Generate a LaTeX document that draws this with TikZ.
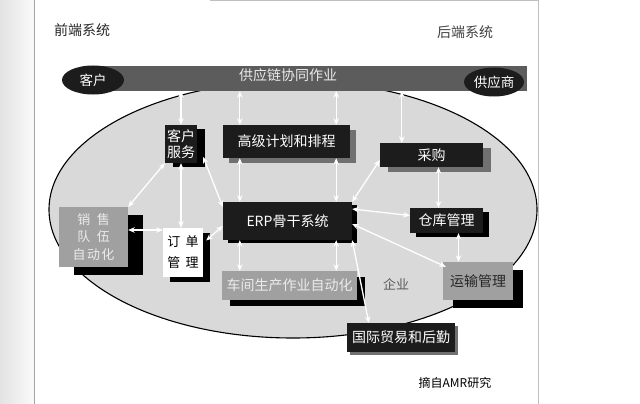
\documentclass[tikz,border=0pt]{standalone}
\usepackage{fontspec}
\newfontfamily\cjk{Noto Sans CJK SC}
\usetikzlibrary{arrows.meta,shadows,shapes.geometric}
\definecolor{bargray}{HTML}{5C5C5C}
\definecolor{ellfill}{HTML}{D9D9D9}
\definecolor{boxblack}{HTML}{1C1C1C}
\definecolor{midgray}{HTML}{A0A0A0}
\definecolor{shadgray}{HTML}{707070}
\definecolor{edgegray}{HTML}{A5A5A5}
\newcommand\myfs[2]{\fontsize{#1pt}{#2pt}\selectfont}
\begin{document}
\begin{tikzpicture}[x=1pt,y=-1pt,
  every node/.style={inner sep=0pt, align=center},
  bk/.style={fill=boxblack, text=white},
  gy/.style={fill=midgray, text=white},
  shd/.style n args={3}{general shadow={fill=#1, shadow xshift=#2, shadow yshift=#3}},
  arr/.style={draw=white, line width=1.3pt, {Stealth[length=6.5pt,width=5.5pt]}-{Stealth[length=6.5pt,width=5.5pt]}}
]
\useasboundingbox (0,0) rectangle (640,404);
\fill[white] (0,0) rectangle (640,404);
\shade[left color=gray!22, right color=gray!4] (0,0) rectangle (34,404);
\draw[edgegray, line width=1pt] (34.5,0) -- (34.5,404);
\draw[gray!50, line width=0.8pt] (538,0) -- (538,404);
\draw[gray!50, line width=1pt] (210,0.5) -- (538,0.5);

\node[font=\cjk\myfs{14}{16}, text=black!85] (front) at (82,30) {前端系统};
\node[font=\cjk\myfs{14}{16}, text=black!75] (back) at (465,32) {后端系统};

\draw[fill=ellfill, line width=1.1pt] (293,209.5) ellipse [x radius=244, y radius=128.5];

\node[fill=bargray, minimum width=427pt, minimum height=25pt] (bar) at (313.5,78.5) {};
\node[font=\cjk\myfs{14}{16}, text=white!92!black] (scl) at (288,75) {供应链协同作业};
\node[ellipse, bk, minimum width=62pt, minimum height=29pt, font=\cjk\myfs{13.5}{16}] (cust) at (93,80) {客户};
\node[ellipse, bk, minimum width=60pt, minimum height=29pt, font=\cjk\myfs{13.5}{16}] (supp) at (494,82) {供应商};

% boxes
\node[bk, shd={black}{8pt}{-4pt}, minimum width=32pt, minimum height=38pt, font=\cjk\myfs{14}{16}] (cs) at (181,144) {客户\\服务};
\node[bk, shd={shadgray}{6pt}{-5pt}, minimum width=127pt, minimum height=33pt, font=\cjk\myfs{14}{16}] (aps) at (286.5,141.5) {高级计划和排程};
\node[bk, shd={black}{5pt}{-3pt}, minimum width=129pt, minimum height=38pt, font=\cjk\myfs{14}{16}] (erp) at (287.5,221) {ERP骨干系统};
\node[bk, shd={shadgray}{8pt}{-5pt}, minimum width=103pt, minimum height=24pt, font=\cjk\myfs{14}{16}] (pur) at (431.5,155) {采购};
\node[bk, shd={black}{6pt}{-4pt}, minimum width=73pt, minimum height=25pt, font=\cjk\myfs{14}{16}] (wh) at (446.5,220.5) {仓库管理};
\node[gy, text=black!85, shd={black}{10pt}{-8pt}, minimum width=70pt, minimum height=38pt, font=\cjk\myfs{14}{16}] (tr) at (478,281) {运输管理};
\node[bk, shd={shadgray}{3pt}{-3pt}, minimum width=108pt, minimum height=29pt, font=\cjk\myfs{14}{16}] (intl) at (401,337.5) {国际贸易和后勤};
\node[gy, text=white!92!black, shd={black}{8pt}{-6pt}, minimum width=135pt, minimum height=29pt, font=\cjk\myfs{14}{16}] (shop) at (289.5,285.5) {车间生产作业自动化};
\node[gy, text=white!92!black, shd={black}{15pt}{-8pt}, minimum width=69pt, minimum height=60pt, font=\cjk\myfs{13}{17.5}] (sfa) at (93.5,237) {销\hspace{0.5em}售\\队\hspace{0.5em}伍\\自\hspace{0.1em}动\hspace{0.1em}化};
\node[fill=white, text=black, shd={black}{7pt}{-5pt}, minimum width=40pt, minimum height=49pt, font=\cjk\myfs{13}{21}] (ord) at (183,252.5) {订\hspace{0.4em}单\\管\hspace{0.4em}理};

\node[font=\cjk\myfs{13}{16}, text=black!65] (ent) at (396,284) {企业};
\node[font=\cjk\myfs{12}{14}, text=black] (src) at (455,383) {摘自AMR研究};

% connectors
\coordinate (a1) at ([xshift=17pt]aps.north west);
\coordinate (a2) at ([xshift=-14pt]aps.north east);
\coordinate (p1) at ([xshift=22pt]pur.north west);
\coordinate (p2) at ([xshift=7pt]pur.south);
\coordinate (w1) at ([xshift=12pt]wh.south);
\coordinate (s1) at ([yshift=7pt]sfa.east);

\draw[arr] (cs.north |- bar.south) -- (cs.north);
\draw[arr] (a1 |- bar.south) -- (a1);
\draw[arr] (a2 |- bar.south) -- (a2);
\draw[arr] (p1 |- bar.south) -- (p1);
\draw[arr] (a1 |- aps.south) -- (a1 |- erp.north);
\draw[arr] (a2 |- aps.south) -- (a2 |- erp.north);
\draw[arr] (a1 |- erp.south) -- (a1 |- shop.north);
\draw[arr] (a2 |- erp.south) -- (a2 |- shop.north);
\draw[arr] (cs.south west) -- (sfa.north east);
\draw[arr] (cs.south) -- (cs.south |- ord.north);
\draw[arr] ([xshift=6pt,yshift=-13pt]cs.east) -- ([yshift=14pt]erp.west);
\draw[arr] (s1) -- (s1 -| ord.west);
\draw[arr] ([xshift=3pt,yshift=12pt]ord.east) -- ([yshift=-5pt]erp.west);
\draw[arr] (erp.north east) -- ([yshift=-5pt]pur.west);
\draw[arr] ([yshift=12pt]erp.east) -- ([yshift=5pt]wh.west);
\draw[arr] ([yshift=-3pt]erp.east) -- ([xshift=3pt,yshift=-5pt]tr.north west);
\draw[arr] (erp.south east) -- ([xshift=22pt]intl.north west);
\draw[arr] (p2) -- (p2 |- wh.north);
\draw[arr] (w1) -- (w1 |- tr.north);
\end{tikzpicture}
\end{document}
